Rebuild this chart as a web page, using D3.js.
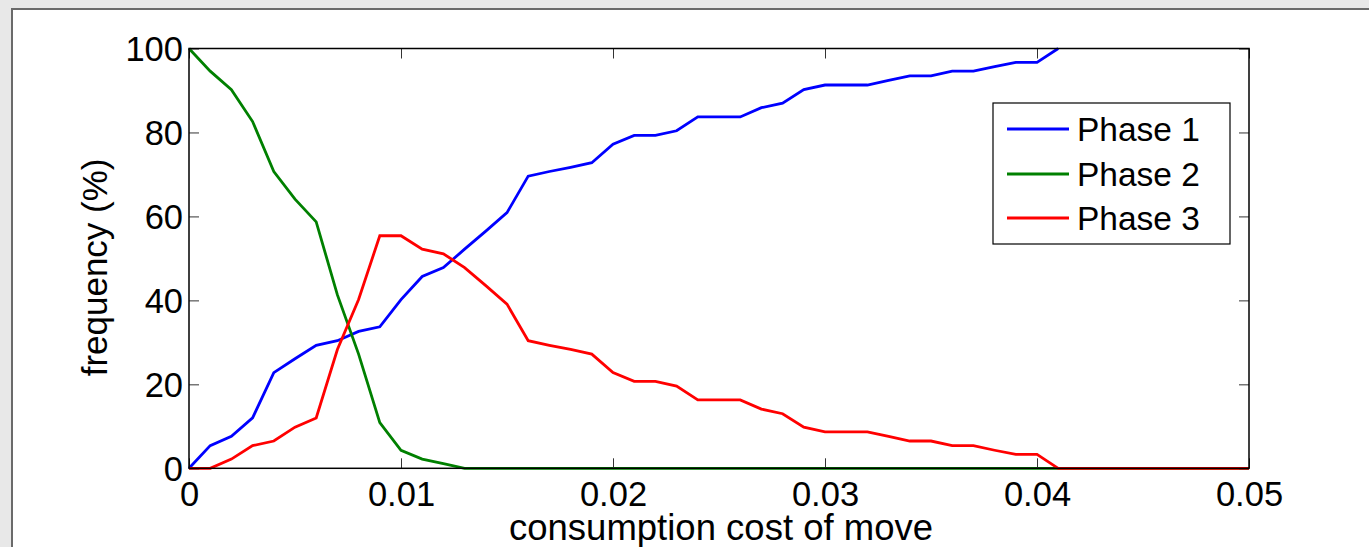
<!DOCTYPE html>
<html>
<head>
<meta charset="utf-8">
<script src="https://cdn.jsdelivr.net/npm/d3@7"></script>
<style>
  html, body { margin: 0; padding: 0; background: #e8e8e8; }
  svg { display: block; }
  text { font-family: "Liberation Sans", Arial, sans-serif; fill: #000; }
</style>
</head>
<body>
<script>
// ---- data ----
const costs = d3.range(0, 51).map(i => +(i * 0.001).toFixed(3));
const phase1 = [0, 5.4, 7.6, 12.0, 22.8, 26.1, 29.3, 30.4, 32.6, 33.7, 40.2, 45.7, 47.8, 52.2, 56.5, 60.9,
  69.6, 70.7, 71.7, 72.8, 77.2, 79.3, 79.3, 80.4, 83.7, 83.7, 83.7, 85.9, 87.0, 90.2, 91.3, 91.3, 91.3,
  92.4, 93.5, 93.5, 94.6, 94.6, 95.7, 96.7, 96.7, 100];
const phase2 = [100, 94.6, 90.2, 82.6, 70.7, 64.1, 58.7, 41.3, 27.2, 10.9, 4.3, 2.2, 1.1,
  0, 0, 0, 0, 0, 0, 0, 0, 0, 0, 0, 0, 0, 0, 0, 0, 0, 0, 0, 0, 0, 0, 0, 0, 0, 0, 0, 0, 0, 0, 0, 0, 0, 0, 0, 0, 0, 0];
const phase3 = [0, 0, 2.2, 5.4, 6.5, 9.8, 12.0, 28.3, 40.2, 55.4, 55.4, 52.2, 51.1, 47.8, 43.5, 39.1,
  30.4, 29.3, 28.3, 27.2, 22.8, 20.7, 20.7, 19.6, 16.3, 16.3, 16.3, 14.1, 13.0, 9.8, 8.7, 8.7, 8.7,
  7.6, 6.5, 6.5, 5.4, 5.4, 4.3, 3.3, 3.3, 0, 0, 0, 0, 0, 0, 0, 0, 0, 0];
const seriesNames = ["Phase 1", "Phase 2", "Phase 3"];
const seriesColors = ["#0000ff", "#008000", "#ff0000"];
const xTicks = [0, 0.01, 0.02, 0.03, 0.04, 0.05];
const xTickLabels = ["0", "0.01", "0.02", "0.03", "0.04", "0.05"];
const yTicks = [0, 20, 40, 60, 80, 100];
const xLabel = "consumption cost of move";
const yLabel = "frequency (%)";

// ---- layout ----
const W = 1369, H = 547;
const L = 189, R = 1249, T = 48.5, B = 468.3;

const svg = d3.select("body").append("svg").attr("width", W).attr("height", H);

// figure panel
svg.append("rect").attr("x", 12).attr("y", 9).attr("width", W + 20).attr("height", H + 20)
  .attr("fill", "#fff").attr("stroke", "#6a6a6a").attr("stroke-width", 2);

const x = d3.scaleLinear().domain([0, 0.05]).range([L, R]);
const y = d3.scaleLinear().domain([0, 100]).range([B, T]);

const tickLen = 10;
const fs = 34.5;

// series
const series = [phase1, phase2, phase3];
const line = d3.line().x((d, i) => x(costs[i])).y(d => y(d));
const gLines = svg.append("g");
series.forEach((s, k) => {
  gLines.append("path").datum(s).attr("d", line)
    .attr("fill", "none").attr("stroke", seriesColors[k]).attr("stroke-width", 2.8)
    .attr("stroke-linejoin", "miter");
});

// axes (box with inward ticks)
const axG = svg.append("g");
const xAxisB = d3.axisBottom(x).tickValues(xTicks).tickSize(-tickLen).tickFormat((d, i) => xTickLabels[i]).tickPadding(13);
const xAxisT = d3.axisTop(x).tickValues(xTicks).tickSize(-tickLen).tickFormat("");
const yAxisL = d3.axisLeft(y).tickValues(yTicks).tickSize(-tickLen).tickFormat(d3.format("d")).tickPadding(6);
const yAxisR = d3.axisRight(y).tickValues(yTicks).tickSize(-tickLen).tickFormat("");

const gb = axG.append("g").attr("transform", `translate(0,${B})`).call(xAxisB);
const gt = axG.append("g").attr("transform", `translate(0,${T})`).call(xAxisT);
const gl = axG.append("g").attr("transform", `translate(${L},0)`).call(yAxisL);
const gr = axG.append("g").attr("transform", `translate(${R},0)`).call(yAxisR);
[gb, gt, gl, gr].forEach(g => {
  g.select(".domain").attr("stroke", "#000").attr("stroke-width", 1.5).attr("d", null);
  g.selectAll(".tick line").attr("stroke", "#333").attr("stroke-width", 1);
  g.selectAll("text").attr("font-size", fs).attr("font-family", "Liberation Sans, Arial, sans-serif").attr("fill", "#000");
});
// draw box frame explicitly
axG.append("rect").attr("x", L).attr("y", T).attr("width", R - L).attr("height", B - T)
  .attr("fill", "none").attr("stroke", "#000").attr("stroke-width", 1.5);
gb.selectAll(".tick text").attr("dy", "0.71em");
gl.selectAll(".tick text").attr("dy", "0.36em");

// axis labels
svg.append("text").attr("x", (L + R) / 2 + 2).attr("y", 540).attr("text-anchor", "middle")
  .attr("font-size", 36.5).text(xLabel);
svg.append("text").attr("transform", `translate(107,${(T + B) / 2 + 9}) rotate(-90)`)
  .attr("text-anchor", "middle").attr("font-size", 35).text(yLabel);

// legend
const lg = svg.append("g");
lg.append("rect").attr("x", 993).attr("y", 103).attr("width", 237).attr("height", 141)
  .attr("fill", "#fff").attr("stroke", "#000").attr("stroke-width", 1.2);
const rowY = [129, 174, 218];
seriesNames.forEach((n, k) => {
  lg.append("line").attr("x1", 1007).attr("x2", 1069).attr("y1", rowY[k]).attr("y2", rowY[k])
    .attr("stroke", seriesColors[k]).attr("stroke-width", 2.8);
  lg.append("text").attr("x", 1077).attr("y", rowY[k]).attr("dy", "0.36em")
    .attr("font-size", 33.5).text(n);
});
</script>
</body>
</html>
